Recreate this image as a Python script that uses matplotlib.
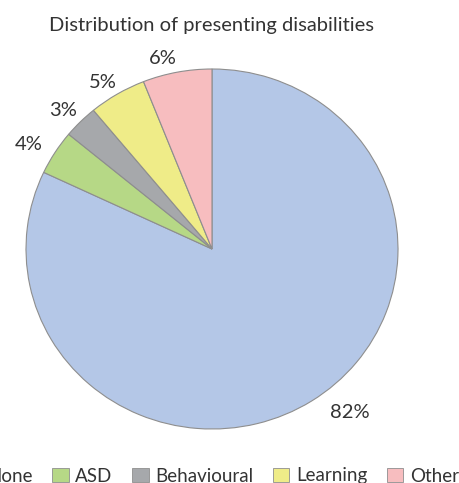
import numpy as np
import matplotlib.pyplot as plt
from matplotlib.patches import Patch

plt.rcParams['font.family'] = ['Lato', 'DejaVu Sans']

# Data
categories = ['None', 'ASD', 'Behavioural', 'Learning', 'Other']
values = [82, 4, 3, 5, 6]
colors = ['#b4c7e7', '#b6d886', '#a6a8ab', '#efec88', '#f7bdbf']

# label placement tweaks (angle offset in degrees, radius)
label_angle_offset = [6.8, 1.8, 1.2, 1.7, 3.2]
label_radius = [1.175, 1.144, 1.109, 1.097, 1.088]

text_color = '#333333'
fs = 14.5

fig = plt.figure(figsize=(4.6, 4.83), dpi=100)
ax = fig.add_axes([26/460, 54/483, 372/460, 360/483])

wedges, _ = ax.pie(values, colors=colors, startangle=90, counterclock=False,
                   radius=1, wedgeprops=dict(edgecolor='#8e8e8e', linewidth=0.8))
ax.set_aspect('auto')
ax.set_xlim(-1, 1)
ax.set_ylim(-1, 1)

# percent labels
for w, v, off, r in zip(wedges, values, label_angle_offset, label_radius):
    ang = np.deg2rad((w.theta1 + w.theta2) / 2 + off)
    ax.text(r * np.cos(ang), r * np.sin(ang), f'{v}%', ha='center', va='center',
            fontsize=fs, color=text_color, clip_on=False)

fig.text(212/460, 1 - 25/483, 'Distribution of presenting disabilities',
         ha='center', va='center', fontsize=fs, color=text_color)

handles = [Patch(facecolor=c, edgecolor='#8e8e8e', linewidth=0.6) for c in colors]
leg = fig.legend(handles, categories, loc='center right', bbox_to_anchor=(459/460, 7/483),
                 ncol=5, frameon=False, fontsize=13.5, handlelength=0.9, handleheight=0.8,
                 handletextpad=0.35, columnspacing=1.03, borderaxespad=0, borderpad=0)
for t in leg.get_texts():
    t.set_color(text_color)

fig.savefig('out.png', dpi=100)
